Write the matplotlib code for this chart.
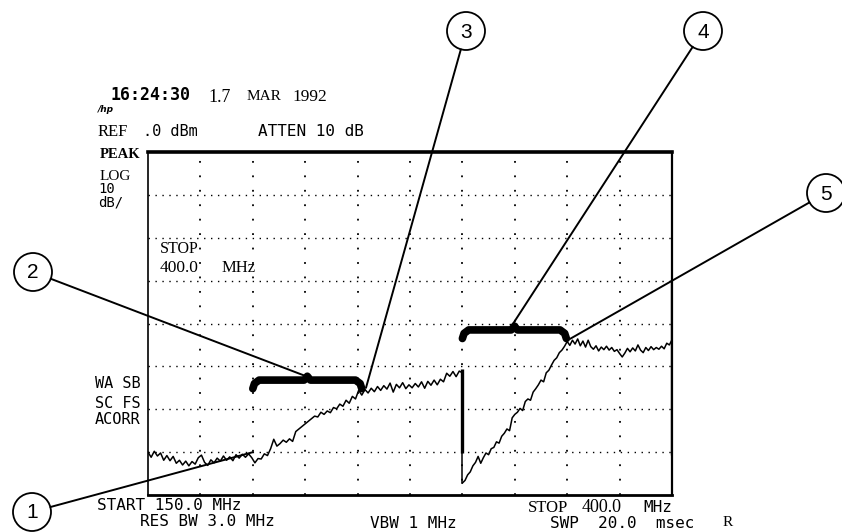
#!/usr/bin/env python3
"""
Spectrum analyzer screen dump (HP style) with numbered callouts.
Two sweeps of a detector response, 150-400 MHz, 10 dB/div.
"""

import numpy as np
import matplotlib.pyplot as plt
from matplotlib.patches import Circle

W, H = 842, 532

# Sweep settings (MHz, dB)
start_mhz, stop_mhz = 150.0, 400.0
ref_db, bottom_db = 0.0, -80.0

# Trace 1: 150 -> 300 MHz, 101 sweep points
sweep1_start, sweep1_stop = 150.0, 300.0
sweep1_db = [
    -70.0, -71.2, -69.8, -70.9, -70.2, -71.9, -70.8, -72.0, -71.0, -72.6,
    -71.9, -73.0, -72.1, -73.2, -72.2, -72.8, -71.3, -70.7, -72.4, -73.1,
    -71.8, -72.5, -71.4, -72.1, -70.9, -71.9, -71.1, -72.0, -70.6, -71.4,
    -70.5, -71.2, -70.4, -71.3, -72.5, -71.5, -71.6, -70.4, -70.8, -69.2,
    -67.0, -68.6, -68.0, -67.2, -67.7, -66.9, -67.5, -65.2, -64.6, -64.0,
    -63.4, -62.8, -62.2, -61.6, -61.8, -60.7, -61.2, -60.4, -60.8, -59.6,
    -59.9, -58.8, -59.3, -57.9, -58.6, -57.0, -57.6, -55.6, -56.7, -55.4,
    -56.2, -55.1, -55.9, -54.7, -55.6, -54.5, -55.3, -53.9, -56.0, -54.2,
    -55.0, -53.8, -55.2, -54.3, -55.0, -54.0, -54.8, -53.6, -55.1, -53.5,
    -54.4, -53.2, -54.3, -53.0, -53.6, -51.6, -52.3, -51.2, -52.4, -51.1,
    -51.5,
]

# Trace 2: 300 -> 400 MHz, 81 sweep points
sweep2_start, sweep2_stop = 300.0, 400.0
sweep2_db = [
    -77.2, -76.6, -75.3, -74.6, -73.2, -72.4, -71.0, -72.6, -71.3, -70.2,
    -70.6, -69.2, -68.9, -67.6, -67.9, -66.3, -65.6, -64.6, -65.0, -62.0,
    -61.2, -60.7, -59.8, -60.3, -58.2, -57.6, -57.9, -56.0, -55.2, -54.3,
    -53.2, -53.6, -51.5, -50.9, -49.7, -48.6, -48.0, -46.8, -46.2, -45.3,
    -44.2, -45.1, -43.9, -44.8, -43.6, -45.2, -44.1, -45.5, -43.9, -45.4,
    -46.0, -45.2, -46.4, -45.5, -46.1, -45.3, -46.2, -45.6, -46.5, -46.1,
    -47.0, -47.8, -46.9, -45.8, -46.6, -45.7, -46.4, -45.0, -46.2, -46.8,
    -45.6, -46.3, -45.4, -46.1, -45.6, -46.0, -45.3, -45.9, -44.6, -45.0,
    -43.8,
]

# Heavy vertical strokes on the screen (MHz, dB from, dB to)
edge_freq = [300.0, 400.0]
edge_lo = [-70.2, -70.7]
edge_hi = [-50.5, -29.9]

# Brackets: start, stop (MHz), level (dB)
brace_start = [200.0, 300.0]
brace_stop = [252.0, 349.6]
brace_level = [-53.2, -41.5]

# Callouts: label, target (MHz, dB)
callout_labels = ["1", "2", "3", "4", "5"]
callout_freq = [200.1, 224.9, 254.0, 324.1, 351.3]
callout_db = [-70.0, -52.2, -55.0, -40.1, -43.6]

fig = plt.figure(figsize=(W / 100, H / 100), dpi=100)
fig.patch.set_facecolor("white")

# graticule area in pixels: x 148..672, y 152..495
ax = fig.add_axes([148 / W, 1 - 495 / H, 524 / W, 343 / H])
ax.set_xlim(start_mhz, stop_mhz)
ax.set_ylim(bottom_db, ref_db)
ax.set_xticks([])
ax.set_yticks([])
for side, lw in [("left", 1.2), ("bottom", 2.0), ("top", 2.6), ("right", 1.6)]:
    ax.spines[side].set_linewidth(lw)
    ax.spines[side].set_color("black")

# dotted graticule, 10 x 8 divisions
for f in np.arange(start_mhz + 25, stop_mhz, 25):
    ax.axvline(f, color="black", lw=1.3, ls=(0, (1, 7)), zorder=1)
for d in np.arange(bottom_db + 10, ref_db, 10):
    ax.axhline(d, color="black", lw=1.0, ls=(0, (1, 4)), zorder=1)

# traces
f1 = np.linspace(sweep1_start, sweep1_stop, len(sweep1_db))
f2 = np.linspace(sweep2_start, sweep2_stop, len(sweep2_db))
ax.plot(f1, sweep1_db, color="black", lw=1.1, zorder=3)
ax.plot([sweep1_stop, sweep2_start], [sweep1_db[-1], sweep2_db[0]],
        color="black", lw=1.1, zorder=3)
ax.plot(f2, sweep2_db, color="black", lw=1.1, zorder=3)
ax.vlines(edge_freq, edge_lo, edge_hi, color="black", lw=2.4, zorder=3)

# curly brackets
for s, e, lv in zip(brace_start, brace_stop, brace_level):
    c = (s + e) / 2
    bx = [s, s + 0.8, s + 3, c - 1.5, c, c + 1.5, e - 3, e - 0.8, e]
    by = [lv - 2.0, lv - 0.8, lv, lv, lv + 0.9, lv, lv, lv - 0.8, lv - 2.0]
    ax.plot(bx, by, color="black", lw=5.5, solid_capstyle="round",
            solid_joinstyle="round", zorder=4)

# overlay in pixel units for annotations
ov = fig.add_axes([0, 0, 1, 1], zorder=5)
ov.set_xlim(0, W)
ov.set_ylim(H, 0)
ov.axis("off")

circle_xy = [(32, 512), (33, 272), (466, 31), (703, 31), (826, 193)]
radius = 19
for lab, (cx, cy), f, d in zip(callout_labels, circle_xy, callout_freq, callout_db):
    ov.add_patch(Circle((cx, cy), radius, fill=False, ec="black", lw=1.3))
    ov.text(cx, cy + 1, lab, ha="center", va="center", fontsize=15,
            family="Liberation Sans")
    ax.annotate("", xy=(f, d), xycoords="data",
                xytext=(cx, cy), textcoords=ov.transData,
                arrowprops=dict(arrowstyle="-", lw=1.4, color="black",
                                shrinkA=radius * 0.72, shrinkB=0))

mono = "DejaVu Sans Mono"
serif = "Liberation Serif"


def label(x, y, s, fam=mono, size=11, **kw):
    ov.text(x, y, s, ha="left", va="center", family=fam, fontsize=size,
            color="black", **kw)


# header
label(110, 95, "16:24:30", size=12, weight="bold")
label(208, 97, "1.7", fam=serif, size=13)
label(247, 97, "MAR", fam=serif, size=11)
label(292, 97, "1992", fam=serif, size=12.5)
label(98, 110, "/hp", fam="DejaVu Sans", size=6.5, style="italic", weight="bold")
label(98, 132, "REF", fam=serif, size=12)
label(143, 132, ".0 dBm", size=11)
label(258, 131, "ATTEN 10 dB", size=11.5)

# left column
label(100, 155, "PEAK", fam=serif, size=10.5, weight="bold")
label(100, 176, "LOG", fam=serif, size=11)
label(98, 189, "10", size=10)
label(98, 202, "dB/", size=10)
label(95, 384, "WA SB", size=11)
label(95, 403, "SC FS", size=11)
label(95, 420, "ACORR", size=11)

# marker readout inside graticule
label(160, 249, "STOP", fam=serif, size=11.5)
label(160, 268, "400.0", fam=serif, size=12.5)
label(222, 268, "MHz", fam=serif, size=12)

# footer
label(97, 506, "START 150.0 MHz", size=11.5)
label(140, 522, "RES BW 3.0 MHz", size=11.5)
label(370, 523, "VBW 1 MHz", size=11.5)
label(528, 508, "STOP", fam=serif, size=12)
label(582, 508, "400.0", fam=serif, size=13)
label(643, 507, "MHz", size=11.5)
label(550, 523, "SWP  20.0  msec", size=11.5)
label(723, 522, "R", fam=serif, size=11)

fig.savefig("out.png", dpi=100, facecolor="white")
plt.close(fig)
